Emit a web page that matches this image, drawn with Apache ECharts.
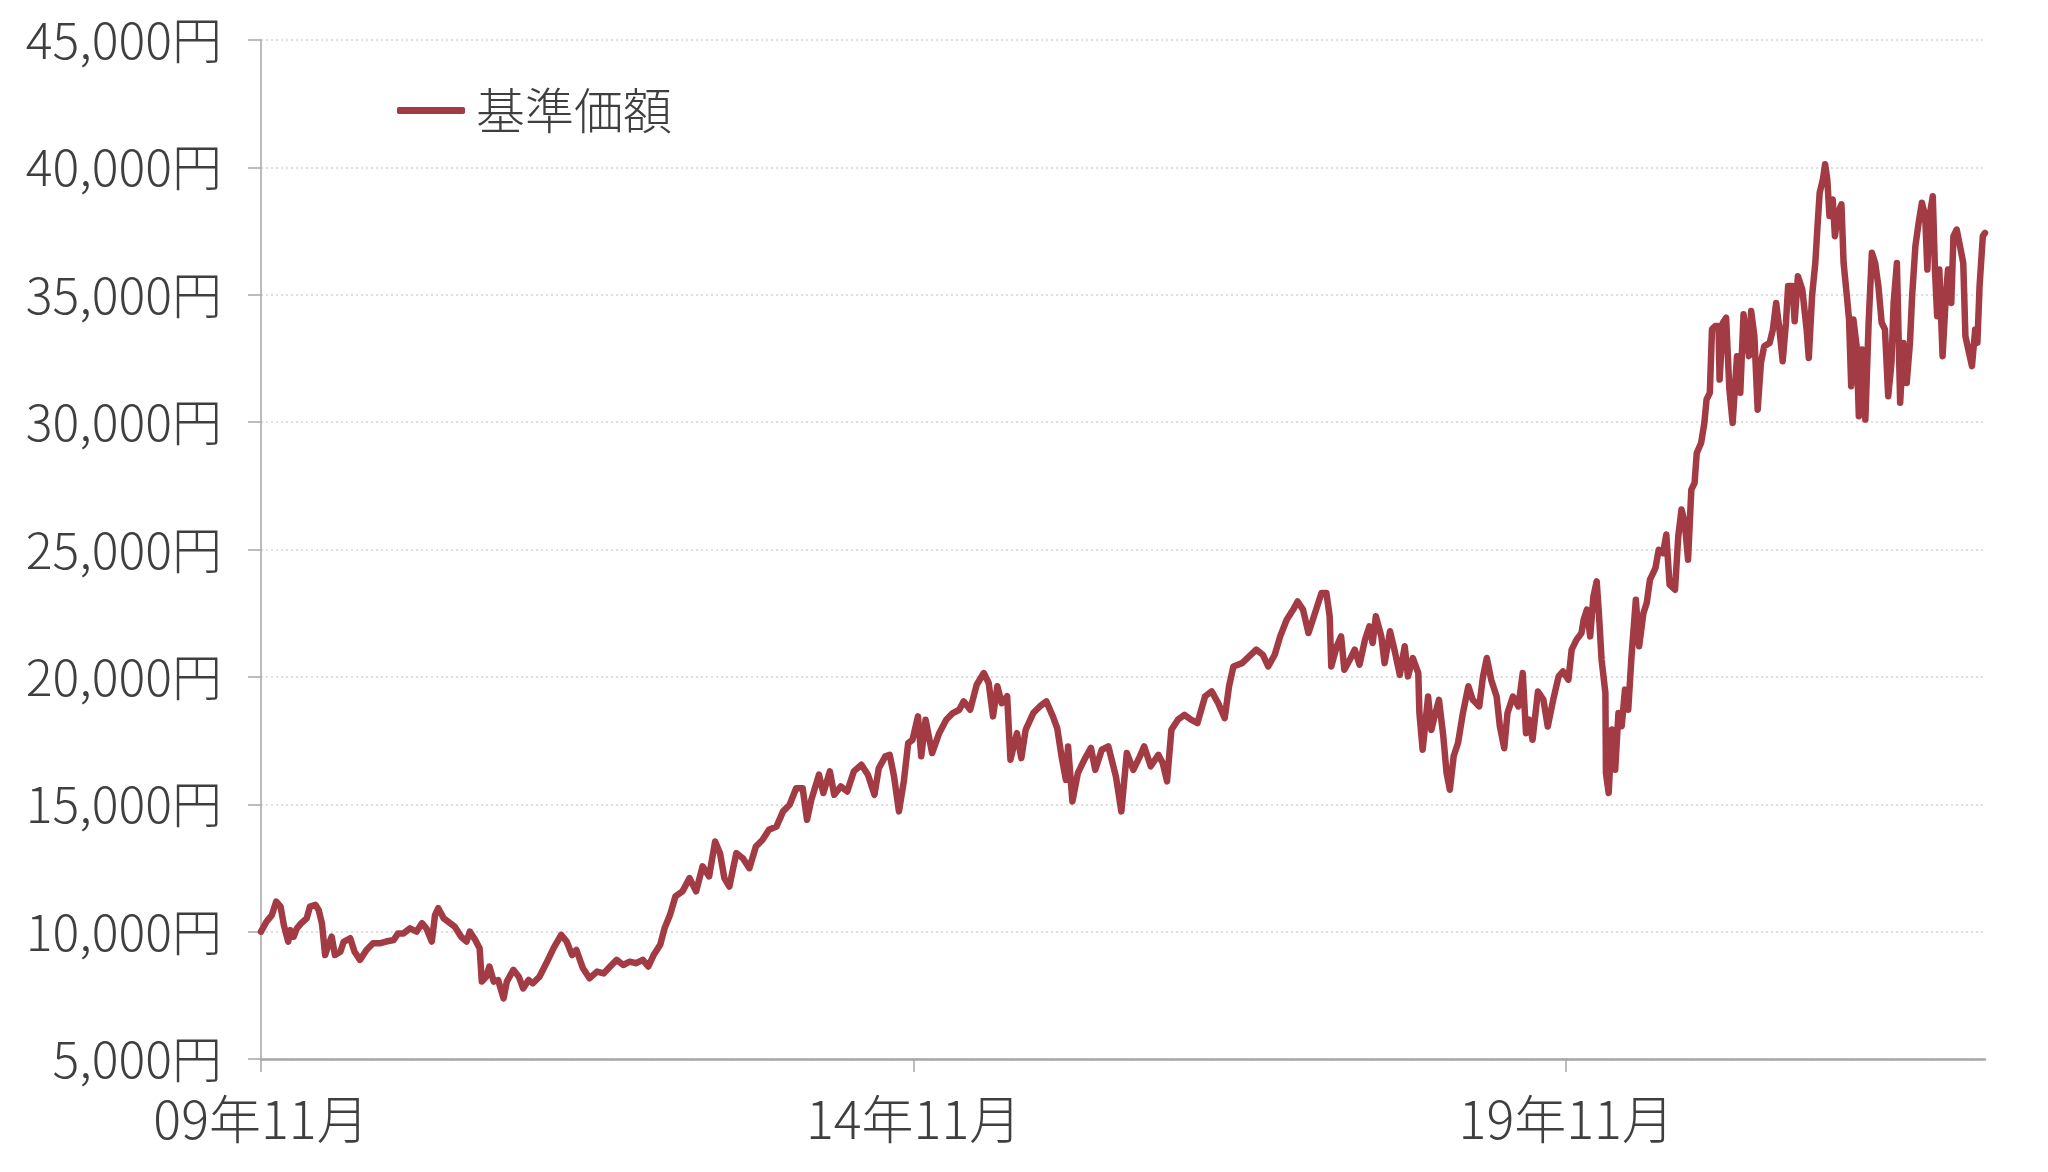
<!DOCTYPE html>
<html>
<head>
<meta charset="utf-8">
<style>
html,body{margin:0;padding:0;background:#fff;}
#chart{width:2048px;height:1172px;}
</style>
<script src="https://cdn.jsdelivr.net/npm/echarts@6/dist/echarts.min.js"></script>
</head>
<body>
<div id="chart"></div>
<script>
// months elapsed since 2009-11
var months = [
0.0,0.5,1.0,1.4,1.8,2.1,2.5,2.7,3.0,3.3,3.7,4.2,4.5,5.0,5.3,5.6,5.9,6.2,6.5,6.8,
7.3,7.6,8.2,8.6,9.1,9.7,10.3,10.9,11.5,12.2,12.6,13.1,13.7,14.3,14.8,15.2,15.7,16.0,16.3,16.8,
17.2,17.8,18.4,18.9,19.2,19.7,20.1,20.3,20.7,21.0,21.4,21.8,22.3,22.6,23.2,23.7,24.1,24.6,25.0,25.6,
26.3,26.9,27.6,28.1,28.6,29.0,29.6,30.2,30.9,31.5,32.1,32.7,33.3,33.9,34.5,35.1,35.6,36.1,36.7,37.1,
37.6,38.1,38.75,39.4,40.0,40.6,41.2,41.75,42.2,42.6,43.06,43.7,44.3,44.9,45.5,46.1,46.7,47.4,48.0,48.6,
49.2,49.8,50.2,50.6,51.3,51.7,52.3,52.7,53.3,53.9,54.5,55.2,55.8,56.4,56.8,57.4,57.8,58.2,58.65,59.1,
59.5,59.9,60.4,60.7,61.1,61.7,62.35,63.0,63.6,64.2,64.6,65.2,65.8,66.45,66.9,67.3,67.7,68.1,68.6,68.9,
69.5,69.9,70.3,71.0,71.6,72.2,72.8,73.2,73.6,74.0,74.2,74.6,75.1,75.7,76.3,76.7,77.3,77.9,78.6,79.1,
79.6,80.2,80.8,81.2,81.8,82.5,82.9,83.3,83.7,84.3,84.9,85.5,86.1,86.8,87.4,88.0,88.6,89.0,89.4,90.2,
91.5,92.1,92.6,93.2,93.7,94.3,94.9,95.3,95.8,96.3,96.7,97.2,97.5,97.95,98.25,98.4,98.9,99.3,99.6,100.1,
100.55,101.0,101.5,101.9,102.2,102.5,103.0,103.3,103.8,104.2,104.7,105.15,105.45,105.9,106.4,106.5,106.8,107.3,107.6,107.9,
108.3,108.7,109.0,109.3,109.65,110.05,110.5,111.0,111.4,112.0,112.35,112.7,113.1,113.6,113.9,114.3,114.6,115.1,115.6,116.0,
116.3,116.6,116.9,117.4,117.9,118.3,118.8,119.3,119.7,120.2,120.5,120.95,121.4,121.6,121.9,122.2,122.5,122.8,123.0,123.25,
123.6,123.65,123.9,124.2,124.5,124.8,125.1,125.4,125.7,126.0,126.4,126.7,127.1,127.4,127.7,128.2,128.5,128.9,129.2,129.5,
130.0,130.3,130.6,130.9,131.2,131.5,131.8,132.0,132.4,132.7,132.9,133.2,133.4,133.7,134.0,134.1,134.4,134.7,135.0,135.3,
135.7,136.0,136.3,136.6,136.8,137.0,137.3,137.6,137.9,138.2,138.7,139.0,139.3,139.6,139.9,140.2,140.4,140.8,141.0,141.3,
141.7,142.1,142.3,142.6,142.9,143.1,143.3,143.6,143.8,144.0,144.2,144.5,144.7,145.0,145.3,145.5,145.8,146.0,146.2,146.4,
146.7,146.9,147.2,147.5,147.8,148.1,148.4,148.7,149.0,149.3,149.6,149.9,150.1,150.4,150.7,151.0,151.3,151.6,151.8,152.1,
152.4,152.7,153.0,153.2,153.4,153.7,153.9,154.1,154.3,154.6,154.9,155.1,155.4,155.6,155.9,156.2,156.5,156.7,156.9,157.3,
157.6,157.8,158.0,158.3,158.5
];
// 基準価額 (円)
var nav = [
10000,10390,10650,11180,10980,10260,9610,10060,9800,10130,10330,10520,10980,11050,10850,10330,9080,9480,9800,9080,
9210,9600,9740,9210,8890,9280,9540,9540,9610,9670,9930,9930,10130,10000,10330,10130,9610,10650,10920,10520,
10390,10200,9800,9610,10000,9670,9350,8040,8230,8630,8040,8100,7380,8040,8500,8230,7770,8100,7970,8230,
8820,9350,9870,9610,9080,9280,8560,8170,8430,8360,8630,8890,8690,8820,8760,8890,8630,9080,9480,10130,
10650,11380,11580,12100,11580,12560,12170,13540,13080,12100,11770,13080,12880,12490,13340,13600,14000,14130,14720,14980,
15630,15630,14390,15180,16160,15440,16290,15370,15700,15500,16290,16550,16160,15370,16420,16880,16940,16090,14720,15900,
17400,17530,18450,16880,18320,17010,17790,18320,18580,18710,19040,18710,19690,20150,19760,18450,19630,18970,19240,16750,
17790,16810,17920,18580,18840,19040,18450,17990,16880,15960,17270,15110,16220,16750,17210,16350,17140,17270,16090,14720,
17010,16350,16880,17270,16490,16940,16620,15900,17920,18320,18510,18320,18190,19240,19430,18970,18380,19630,20410,20540,
21070,20870,20410,20870,21590,22240,22640,22960,22640,21720,22240,22900,23290,23290,22380,20410,21200,21590,20280,20670,
21070,20480,21460,21980,21330,22380,21590,20540,21790,21070,20080,21200,20020,20740,20150,18580,17140,19230,17920,18450,
19100,17660,16220,15570,16880,17400,18580,19630,19100,18840,20020,20740,19890,19230,18050,17200,18580,19230,18840,20150,
17790,18320,17530,19430,19100,18050,19100,20020,20210,19890,21070,21460,21720,22240,22640,21590,23160,23750,22510,20670,
19370,16220,15440,17930,16350,18580,18060,19500,18710,20800,23030,21200,22510,22900,23820,24270,24990,24860,25590,23620,
23420,25520,26570,26040,24600,27350,27610,28790,29180,29970,30890,31150,33640,33770,33770,31670,33900,34100,31280,29970,
32590,31150,34230,33250,32590,34360,33370,30490,32330,32980,33110,33640,34680,33640,32390,33900,35340,35340,33960,35730,
35210,33640,32520,34950,36250,37690,39000,39530,40120,39530,38090,38740,37300,38220,38550,36250,34950,34030,31410,34030,
32980,30230,32850,30100,33900,36650,36250,35340,33900,33640,31020,32330,34680,36250,30760,33110,31540,33110,34950,36910,
37830,38610,38090,35990,38090,38870,35990,34160,35990,32590,34950,35990,34680,37300,37560,36910,36250,33370,32980,32200,
33640,33110,35340,37300,37430
];
var xTickMonths = [0, 60, 120];
var xTickLabels = ['09年11月', '14年11月', '19年11月'];
var seriesName = '基準価額';

var chart = echarts.init(document.getElementById('chart'), null, {renderer: 'canvas'});
var data = months.map(function (m, i) { return [m, nav[i]]; });
var FONT = "'Noto Sans CJK JP', 'Noto Sans', sans-serif";
var TXT = '#3f3f3f';
var AXIS = '#a6a6a6';
var W = 300;

chart.setOption({
  animation: false,
  backgroundColor: '#ffffff',
  grid: {left: 261, right: 63, top: 40, bottom: 113},
  legend: {
    left: 392, top: 81,
    itemWidth: 68, itemHeight: 7, itemGap: 20,
    icon: 'roundRect',
    textStyle: {fontFamily: FONT, fontWeight: W, fontSize: 49, color: TXT, padding: [0, 0, 0, 6]},
    data: [seriesName]
  },
  xAxis: {
    type: 'value', min: 0, max: 158.5,
    splitLine: {show: false},
    axisLine: {show: true, onZero: false, lineStyle: {color: AXIS, width: 2.5}},
    axisTick: {show: true, length: 13, lineStyle: {color: AXIS, width: 1.5}, customValues: xTickMonths},
    axisLabel: {
      customValues: xTickMonths,
      fontFamily: FONT, fontWeight: W, fontSize: 52, color: TXT, margin: 34,
      formatter: function (v) { var i = xTickMonths.indexOf(v); return i >= 0 ? xTickLabels[i] : ''; }
    }
  },
  yAxis: {
    type: 'value', min: 5000, max: 45000, interval: 5000,
    axisLine: {show: true, lineStyle: {color: AXIS, width: 1.5}},
    axisTick: {show: true, length: 13, lineStyle: {color: AXIS, width: 1.5}},
    splitLine: {show: true, lineStyle: {color: '#d4d4d4', width: 1.5, type: [2, 3]}},
    axisLabel: {
      fontFamily: FONT, fontWeight: W, fontSize: 50, color: TXT, margin: 39,
      formatter: function (v) { return v.toLocaleString('en-US') + '円'; }
    }
  },
  series: [{
    name: seriesName,
    type: 'line',
    data: data,
    symbol: 'none',
    showSymbol: false,
    sampling: 'none',
    lineStyle: {color: '#a23b44', width: 6.5, join: 'round', cap: 'round'},
    itemStyle: {color: '#a23b44'},
    z: 3
  }]
});
</script>
</body>
</html>
